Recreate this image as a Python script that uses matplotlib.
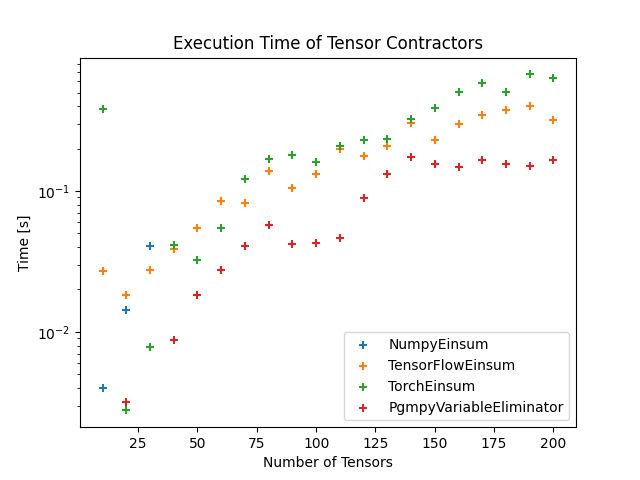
import matplotlib
matplotlib.use("Agg")
import matplotlib.pyplot as plt

numpy_x = [10, 20, 30]
numpy_t = [0.00397, 0.0143, 0.0406]

tf_x = [10, 20, 30, 40, 50, 60, 70, 80, 90, 100, 110, 120, 130, 140, 150, 160, 170, 180, 190, 200]
tf_t = [0.027, 0.01815, 0.0274, 0.0387, 0.0545, 0.0847, 0.082, 0.138, 0.1047, 0.1315,
        0.200, 0.177, 0.210, 0.305, 0.229, 0.298, 0.345, 0.374, 0.399, 0.318]

torch_x = [10, 20, 30, 40, 50, 60, 70, 80, 90, 100, 110, 120, 130, 140, 150, 160, 170, 180, 190, 200]
torch_t = [0.385, 0.00277, 0.0078, 0.0415, 0.0323, 0.0545, 0.1227, 0.168, 0.179, 0.161,
           0.208, 0.229, 0.236, 0.325, 0.386, 0.508, 0.582, 0.508, 0.673, 0.631]

pgmpy_x = [20, 40, 50, 60, 70, 80, 90, 100, 110, 120, 130, 140, 150, 160, 170, 180, 190, 200]
pgmpy_t = [0.0032, 0.00875, 0.01825, 0.0277, 0.0406, 0.0573, 0.042, 0.0427, 0.0462, 0.0889,
           0.1315, 0.174, 0.155, 0.1476, 0.165, 0.155, 0.150, 0.165]

fig, ax = plt.subplots(figsize=(6.4, 4.8), dpi=100)
ax.scatter(numpy_x, numpy_t, marker='+', label='NumpyEinsum')
ax.scatter(tf_x, tf_t, marker='+', label='TensorFlowEinsum')
ax.scatter(torch_x, torch_t, marker='+', label='TorchEinsum')
ax.scatter(pgmpy_x, pgmpy_t, marker='+', label='PgmpyVariableEliminator')
ax.set_yscale('log')
ax.set_title('Execution Time of Tensor Contractors')
ax.set_xlabel('Number of Tensors')
ax.set_ylabel('Time [s]')
ax.legend(loc='lower right')
fig.savefig('out.png')
